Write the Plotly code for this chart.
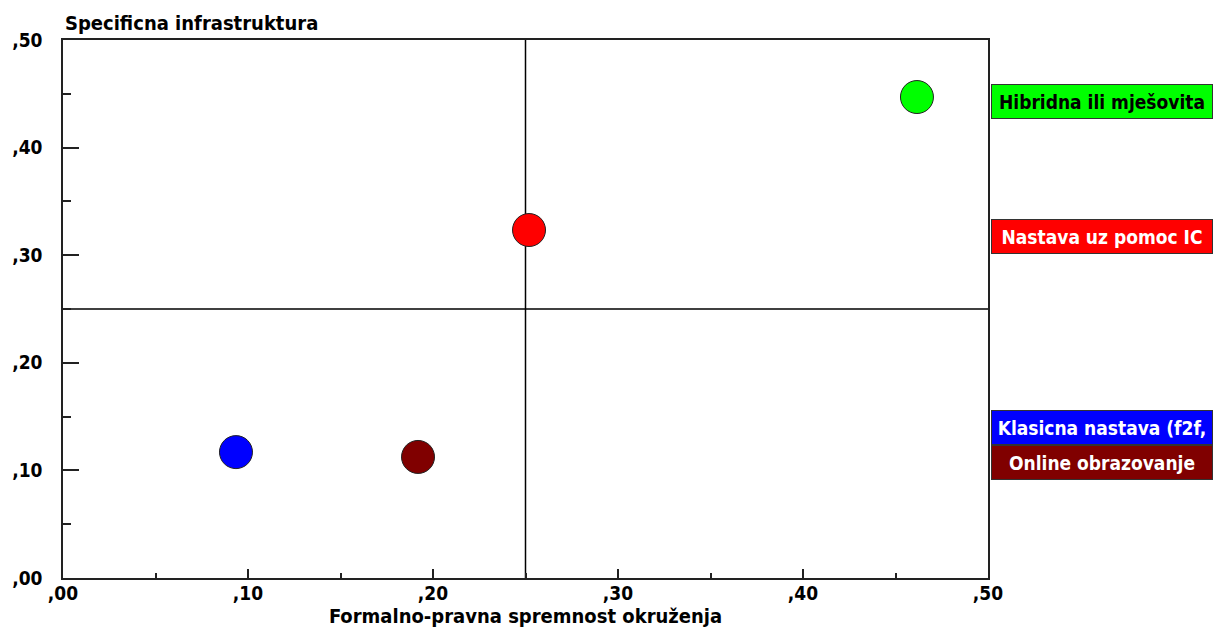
import plotly.graph_objects as go

categories = ["Hibridna ili mješovita", "Nastava uz pomoc IC", "Klasicna nastava (f2f,", "Online obrazovanje"]
x_values = [0.4616, 0.2519, 0.0935, 0.1919]
y_values = [0.447, 0.3234, 0.117, 0.1125]
colors = ["#00ff00", "#ff0000", "#0000ff", "#800000"]
text_colors = ["#000000", "#ffffff", "#ffffff", "#ffffff"]
tick_vals = [0.0, 0.1, 0.2, 0.3, 0.4, 0.5]
tick_text = [",00", ",10", ",20", ",30", ",40", ",50"]
x_title = "Formalno-pravna spremnost okruženja"
y_title = "Specificna infrastruktura"
center = 0.25

FONT = "DejaVu Sans Condensed, Liberation Sans Narrow, Liberation Sans, Arial, sans-serif"

fig = go.Figure()
for name, xv, yv, c in zip(categories, x_values, y_values, colors):
    fig.add_trace(go.Scatter(
        x=[xv], y=[yv], mode="markers", name=name,
        marker=dict(size=33, color=c, line=dict(color="#222222", width=1)),
        showlegend=False, cliponaxis=False,
    ))

# crosshair
fig.add_shape(type="line", xref="x", yref="paper", x0=center, x1=center, y0=0, y1=1,
              line=dict(color="#000000", width=1.5), layer="below")
fig.add_shape(type="line", xref="paper", yref="y", x0=0, x1=1, y0=center, y1=center,
              line=dict(color="#000000", width=1.5), layer="below")

# label boxes on the right
box_y = [0.4424, 0.3174, 0.1403, 0.1073]
for name, c, tc, by in zip(categories, colors, text_colors, box_y):
    fig.add_annotation(
        x=1.0, xref="paper", xanchor="left", xshift=3,
        y=by, yref="y", yanchor="middle",
        text="<b>%s</b>" % name, showarrow=False,
        font=dict(family=FONT, size=19, color=tc),
        bgcolor=c, bordercolor="#333333", borderwidth=1, borderpad=0,
        width=220, height=33, align="center",
    )

fig.add_annotation(
    x=0, xref="paper", xanchor="left", xshift=0,
    y=1, yref="paper", yanchor="bottom", yshift=3,
    text="<b>%s</b>" % y_title, showarrow=False,
    font=dict(family=FONT, size=20, color="#000000"),
)

axis_common = dict(
    range=[0, 0.5], tickvals=tick_vals, ticktext=["<b>%s</b>" % t for t in tick_text],
    showgrid=False, zeroline=False, showline=True, mirror=True, automargin=False,
    linecolor="#222222", linewidth=1.5, ticks="inside", tickcolor="#222222",
    tickfont=dict(family=FONT, size=19, color="#000000"),
)

fig.update_xaxes(**axis_common, ticklen=9, tickwidth=1.5, ticklabelstandoff=-3,
                 minor=dict(dtick=0.05, tick0=0, ticks="inside", ticklen=5, tickcolor="#222222", tickwidth=1.5),
                 title=dict(text="<b>%s</b>" % x_title, font=dict(family=FONT, size=20, color="#000000"), standoff=2))
fig.update_yaxes(**axis_common, ticklen=16, tickwidth=1.5, ticklabelstandoff=15,
                 minor=dict(dtick=0.05, tick0=0, ticks="inside", ticklen=8, tickcolor="#222222", tickwidth=1.5))

fig.update_layout(
    width=1223, height=634,
    margin=dict(l=55, r=243, t=32, b=64),
    plot_bgcolor="#ffffff", paper_bgcolor="#ffffff",
)

fig.write_html("out.html")
